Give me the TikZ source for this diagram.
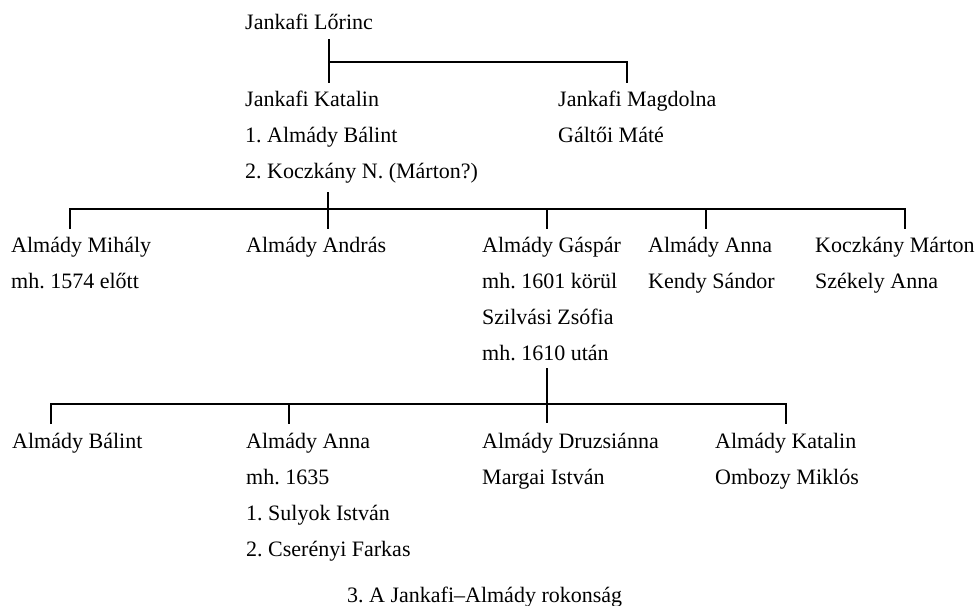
\documentclass[tikz,border=0pt]{standalone}
\usepackage{fontspec}
\setmainfont{Liberation Serif}
\frenchspacing
\begin{document}
\begin{tikzpicture}[x=1pt,y=-1pt,
  txt/.style={anchor=base west,inner sep=0pt,font=\fontsize{22}{26}\selectfont\frenchspacing},
  conn/.style={line width=1.3pt}]
\useasboundingbox (0,0) rectangle (976,605);
% generation 0
\node[txt] (lor) at (245,29) {Jankafi Lőrinc};
% generation 1
\node[txt] (kat1) at (245,106) {Jankafi Katalin};
\node[txt] (kat2) at (245,142) {1. Almády Bálint};
\node[txt] (kat3) at (245,178) {2. Koczkány N. (Márton?)};
\node[txt] (mag1) at (558,106) {Jankafi Magdolna};
\node[txt] (mag2) at (558,142) {Gáltői Máté};
% generation 2
\node[txt] (mih1) at (11,252) {Almády Mihály};
\node[txt] (mih2) at (11,288) {mh. 1574 előtt};
\node[txt] (and1) at (246,252) {Almády András};
\node[txt] (gas1) at (482,252) {Almády Gáspár};
\node[txt] (gas2) at (482,288) {mh. 1601 körül};
\node[txt] (gas3) at (482,324) {Szilvási Zsófia};
\node[txt] (gas4) at (482,360) {mh. 1610 után};
\node[txt] (ann1) at (648,252) {Almády Anna};
\node[txt] (ann2) at (648,288) {Kendy Sándor};
\node[txt] (koc1) at (815,252) {Koczkány Márton};
\node[txt] (koc2) at (815,288) {Székely Anna};
% generation 3
\node[txt] (bal1) at (12,448) {Almády Bálint};
\node[txt] (an1) at (246,448) {Almády Anna};
\node[txt] (an2) at (246,484) {mh. 1635};
\node[txt] (an3) at (246,520) {1. Sulyok István};
\node[txt] (an4) at (246,556) {2. Cserényi Farkas};
\node[txt] (dru1) at (482,448) {Almády Druzsiánna};
\node[txt] (dru2) at (482,484) {Margai István};
\node[txt] (kt1) at (715,448) {Almády Katalin};
\node[txt] (kt2) at (715,484) {Ombozy Miklós};
% caption
\node[txt] (cap) at (347,602) {3. A Jankafi–Almády rokonság};
% connectors level 0
\coordinate (a1) at (329,39);
\coordinate (a2) at (329,62);
\coordinate (a3) at (329,83);
\coordinate (a4) at (627,62);
\coordinate (a5) at (627,83);
\draw[conn] (a1) -- (a3);
\draw[conn] (a2) -- (a4) -- (a5);
% connectors level 1
\coordinate (b0) at (328,192);
\coordinate (b1) at (70,209);
\coordinate (b2) at (905,209);
\coordinate (bm) at (328,209);
\draw[conn] (b0) -- (bm);
\draw[conn] (b1 |- 0,229) -- (b1) -- (b2) -- (b2 |- 0,229);
\coordinate (c2) at (328,229);
\coordinate (c3) at (547,229);
\coordinate (c4) at (706,229);
\draw[conn] (bm) -- (c2);
\draw[conn] (c3 |- b1) -- (c3);
\draw[conn] (c4 |- b1) -- (c4);
% connectors level 2
\coordinate (d0) at (547,368);
\coordinate (dm) at (547,404);
\coordinate (d1) at (51,404);
\coordinate (d2) at (786,404);
\coordinate (e1) at (51,424);
\coordinate (e2) at (289,424);
\coordinate (e3) at (547,423);
\coordinate (e4) at (786,424);
\draw[conn] (d0) -- (e3);
\draw[conn] (e1) -- (d1) -- (d2) -- (e4);
\draw[conn] (e2 |- d1) -- (e2);
\end{tikzpicture}
\end{document}
